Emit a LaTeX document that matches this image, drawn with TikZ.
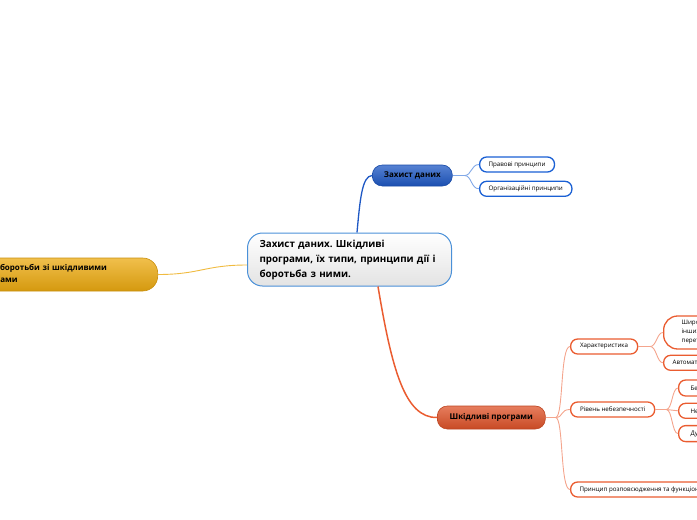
\documentclass[tikz,border=0pt]{standalone}
\usepackage{fontspec}
\setmainfont{Open Sans}
\frenchspacing
\usepackage{tikz}
\usetikzlibrary{positioning, calc}
\definecolor{centralline}{RGB}{74, 144, 216}
\definecolor{topicblue}{RGB}{30, 88, 196}
\definecolor{topicred}{RGB}{222, 82, 40}
\definecolor{topicgold}{RGB}{236, 170, 16}
\definecolor{leafblue}{RGB}{26, 96, 212}
\definecolor{leafred}{RGB}{234, 92, 48}

\begin{document}
\begin{tikzpicture}[x=1pt, y=-1pt,
    central/.style={rectangle, rounded corners=15pt, draw=centralline, line width=1pt, top color=white, bottom color=black!11, minimum width=204pt, minimum height=53pt, text width=180pt, inner xsep=12pt, align=left, font=\fontsize{9.8}{15}\selectfont\bfseries, anchor=west},
    topic/.style={rectangle, rounded corners=10pt, draw=#1!85!black, line width=0.6pt, top color=#1!75!white, bottom color=#1!90!black, font=\fontsize{8}{12}\selectfont\bfseries, anchor=west},
    leaf/.style={rectangle, rounded corners=7pt, draw=#1, line width=1.3pt, fill=white, minimum height=15pt, inner xsep=9pt, inner ysep=1pt, align=left, font=\fontsize{6.2}{9}\selectfont, anchor=west},
    link/.style={#1, line width=1.3pt},
    twig/.style={#1!55, line width=0.9pt}
]
\clip (0,0) rectangle (697,520);

% Central topic
\node (central) [central] at (247,259.5) {Захист даних. Шкідливі\\програми, їх типи, принципи дії і\\боротьба з ними.};

% Main branches
\node (zahyst)  [topic=topicblue, minimum width=80pt, minimum height=21pt] at (372,175.5) {Захист даних};
\node (shkidl)  [topic=topicred, minimum width=108pt, minimum height=23pt] at (437,417.5) {Шкідливі програми};
\node (metody)  [topic=topicgold, rounded corners=15pt, minimum width=206pt, minimum height=33pt, text width=180pt, inner xsep=13pt, align=left, anchor=east] at (158,274.5) {Методи боротьби зі шкідливими\\програмами};

% Leaves of Zahyst danykh
\node (pravovi) [leaf=leafblue, minimum width=72pt] at (479,164.5) {Правові принципи};
\node (orghan)  [leaf=leafblue, minimum width=88pt, below=8pt of pravovi.south west, anchor=north west] {Організаційні принципи};

% Leaves of Shkidlyvi programy
\node (kharakt) [leaf=leafred, minimum width=67pt] at (570,346.5) {Характеристика};
\node (riven)   [leaf=leafred, minimum width=84pt] at (570,409.5) {Рівень небезпечності};
\node (pryntsyp) [leaf=leafred] at (570,489.5) {Принцип розповсюдження та функціонування};

\node (shyroko)  [leaf=leafred, rounded corners=14pt, minimum height=33pt, inner xsep=18pt] at (663,332.5) {Широко поширюються,\\інших програм,\\перетворюючи їх};
\node (avtomat)  [leaf=leafred, below=5pt of shyroko.south west, anchor=north west] {Автоматично виконуються};
\node (bezpech)  [leaf=leafred, minimum height=16pt, inner xsep=12pt] at (678,388) {Безпечні};
\node (nebezp)   [leaf=leafred, inner xsep=12pt, below=6pt of bezpech.south west, anchor=north west] {Небезпечні};
\node (duzhe)    [leaf=leafred, minimum height=16pt, inner xsep=12pt, below=6pt of nebezp.south west, anchor=north west] {Дуже небезпечні};

% Links from the central topic
\draw [link=topicblue] ([xshift=110pt]central.north west) .. controls (360,200) and (362,176) .. (zahyst.west);
\draw [link=leafred, line width=1.5pt] ([xshift=131pt]central.south west) .. controls (392,370) and (405,418) .. (shkidl.west);
\draw [link=topicgold!80, line width=0.9pt] (central.west |- 0,265) .. controls (205,265) and (200,274.5) .. (metody.east);

% Twigs
\draw [twig=leafblue, line width=1.6pt] (zahyst.east) -- ++(12,0);
\foreach \leafname in {pravovi, orghan}
  \draw [twig=leafblue] ([xshift=12pt]zahyst.east) .. controls +(7,0) and +(-8,0) .. (\leafname.west);

\draw [twig=leafred, line width=1.6pt] (shkidl.east) -- ++(10,0);
\foreach \leafname in {kharakt, riven, pryntsyp}
  \draw [twig=leafred] ([xshift=10pt]shkidl.east) .. controls +(8,0) and +(-10,0) .. (\leafname.west);

\draw [twig=leafred, line width=1.6pt] (kharakt.east) -- ++(12,0);
\foreach \leafname in {shyroko, avtomat}
  \draw [twig=leafred] ([xshift=12pt]kharakt.east) .. controls +(6,0) and +(-6,0) .. (\leafname.west);

\draw [twig=leafred, line width=1.6pt] (riven.east) -- ++(11,0);
\foreach \leafname in {bezpech, nebezp, duzhe}
  \draw [twig=leafred] ([xshift=11pt]riven.east) .. controls +(6,0) and +(-6,0) .. (\leafname.west);

\end{tikzpicture}
\end{document}
